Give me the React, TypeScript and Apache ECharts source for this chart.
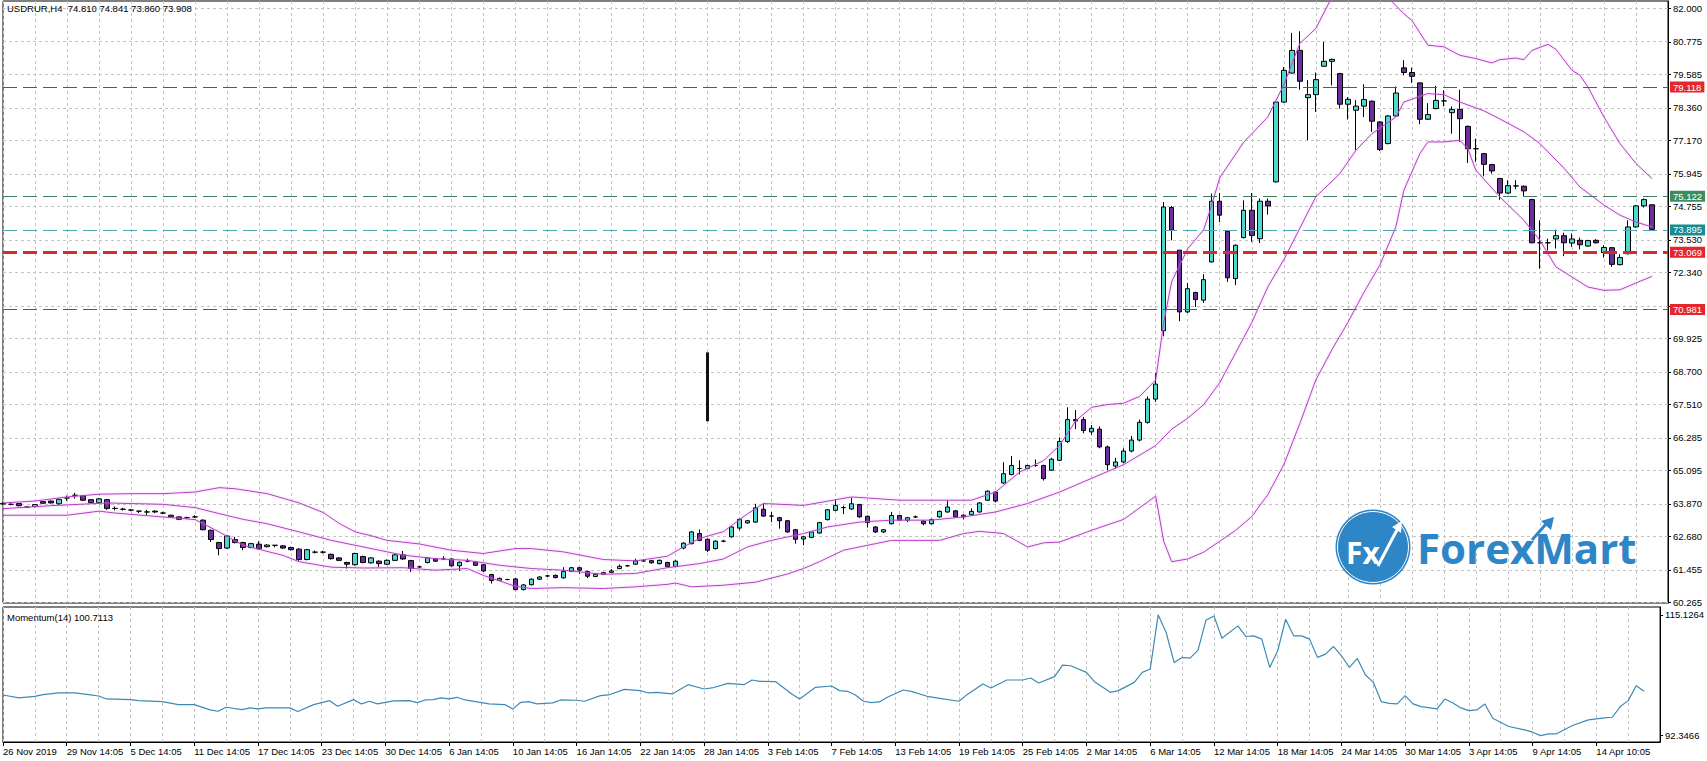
import React, { useEffect, useRef } from 'react';
import * as echarts from 'echarts';

const FONT = "'Liberation Sans', Arial, sans-serif";

// x-axis tick labels, one every 8 bars
const tickLabels = [
  '26 Nov 2019', '29 Nov 14:05', '5 Dec 14:05', '11 Dec 14:05', '17 Dec 14:05', '23 Dec 14:05',
  '30 Dec 14:05', '6 Jan 14:05', '10 Jan 14:05', '16 Jan 14:05', '22 Jan 14:05', '28 Jan 14:05',
  '3 Feb 14:05', '7 Feb 14:05', '13 Feb 14:05', '19 Feb 14:05', '25 Feb 14:05', '2 Mar 14:05',
  '6 Mar 14:05', '12 Mar 14:05', '18 Mar 14:05', '24 Mar 14:05', '30 Mar 14:05', '3 Apr 14:05',
  '9 Apr 14:05', '14 Apr 10:05',
];

const SLOT_COUNT = 209;

// price axis ticks (grid lines) and the labels that are not covered by a level badge
const priceTicks = [
  60.265, 61.455, 62.68, 63.87, 65.095, 66.285, 67.51, 68.7, 69.925, 71.115,
  72.34, 73.53, 74.755, 75.945, 77.17, 78.36, 79.585, 80.775, 82.0,
];
const priceLabels = [
  60.265, 61.455, 62.68, 63.87, 65.095, 66.285, 67.51, 68.7, 69.925,
  72.34, 73.53, 74.755, 75.945, 77.17, 78.36, 79.585, 80.775, 82.0,
];
const momentumTicks = [92.3466, 115.1264];

// horizontal levels
const levelValues = [79.118, 75.122, 73.895, 73.069, 70.981];

// [open, close, low, high]
const candles: number[][] = [
  [63.86, 63.88, 63.83, 63.93], [63.85, 63.85, 63.81, 63.89], [63.88, 63.8, 63.77, 63.9], [63.75, 63.75, 63.72, 63.78],
  [63.77, 63.84, 63.74, 63.86], [63.95, 63.89, 63.87, 63.97], [63.97, 63.9, 63.88, 63.99], [63.87, 64.03, 63.83, 64.07],
  [64.08, 64.08, 63.98, 64.17], [64.18, 64.18, 64.06, 64.27], [64.16, 64.0, 63.97, 64.19], [64.02, 63.91, 63.88, 64.04],
  [63.91, 64.05, 63.88, 64.08], [64.02, 63.7, 63.65, 64.05], [63.7, 63.7, 63.63, 63.77], [63.67, 63.67, 63.62, 63.72],
  [63.64, 63.64, 63.6, 63.68], [63.6, 63.6, 63.53, 63.61], [63.57, 63.57, 63.46, 63.65], [63.6, 63.57, 63.53, 63.63],
  [63.53, 63.53, 63.49, 63.58], [63.45, 63.39, 63.37, 63.47], [63.39, 63.3, 63.27, 63.41], [63.36, 63.36, 63.32, 63.4],
  [63.39, 63.39, 63.35, 63.45], [63.27, 62.92, 62.9, 63.3], [62.9, 62.56, 62.47, 62.93], [62.45, 62.23, 61.98, 62.48],
  [62.25, 62.69, 62.22, 62.72], [62.56, 62.45, 62.42, 62.66], [62.45, 62.27, 62.17, 62.48], [62.27, 62.41, 62.24, 62.44],
  [62.39, 62.22, 62.19, 62.5], [62.3, 62.36, 62.27, 62.39], [62.35, 62.35, 62.28, 62.36], [62.33, 62.25, 62.22, 62.36],
  [62.27, 62.19, 62.16, 62.3], [62.21, 61.83, 61.78, 62.24], [61.83, 62.19, 61.8, 62.22], [62.1, 62.1, 62.05, 62.16],
  [62.1, 62.1, 62.05, 62.15], [62.02, 61.86, 61.83, 62.05], [61.89, 61.8, 61.77, 61.92], [61.72, 61.66, 61.5, 61.75],
  [61.64, 62.05, 61.61, 62.08], [61.94, 61.72, 61.69, 61.97], [61.71, 61.89, 61.68, 61.92], [61.77, 61.68, 61.55, 61.8],
  [61.66, 61.8, 61.63, 61.83], [61.8, 62.0, 61.77, 62.05], [62.0, 61.85, 61.82, 62.14], [61.79, 61.5, 61.38, 61.82],
  [61.56, 61.56, 61.52, 61.6], [61.72, 61.89, 61.69, 61.92], [61.85, 61.77, 61.74, 61.88], [61.85, 61.85, 61.83, 61.95],
  [61.85, 61.6, 61.57, 61.88], [61.6, 61.73, 61.41, 61.76], [61.77, 61.77, 61.73, 61.86], [61.74, 61.62, 61.59, 61.77],
  [61.64, 61.41, 61.38, 61.67], [61.28, 61.06, 60.95, 61.31], [61.07, 61.14, 61.04, 61.17], [61.1, 61.1, 61.07, 61.12],
  [61.12, 60.73, 60.7, 61.15], [60.73, 60.9, 60.7, 60.93], [60.91, 61.11, 60.88, 61.14], [61.11, 61.19, 61.08, 61.22],
  [61.23, 61.23, 61.19, 61.27], [61.25, 61.17, 61.14, 61.28], [61.16, 61.39, 61.13, 61.55], [61.4, 61.53, 61.37, 61.56],
  [61.53, 61.44, 61.3, 61.56], [61.39, 61.22, 61.15, 61.42], [61.21, 61.29, 61.18, 61.32], [61.29, 61.35, 61.26, 61.38],
  [61.36, 61.41, 61.33, 61.48], [61.5, 61.58, 61.47, 61.65], [61.6, 61.6, 61.57, 61.64], [61.66, 61.78, 61.63, 61.86],
  [61.78, 61.78, 61.75, 61.82], [61.79, 61.71, 61.68, 61.82], [61.68, 61.8, 61.65, 61.83], [61.72, 61.57, 61.54, 61.75],
  [61.58, 61.77, 61.55, 61.8], [62.25, 62.43, 62.2, 62.46], [62.41, 62.84, 62.38, 62.87], [62.78, 62.53, 62.5, 62.93],
  [62.57, 62.17, 62.1, 62.6], [62.23, 62.5, 62.2, 62.53], [62.5, 62.5, 62.46, 62.55], [62.66, 63.02, 62.63, 63.05],
  [62.98, 63.3, 62.9, 63.33], [63.17, 63.25, 63.14, 63.28], [63.2, 63.72, 63.17, 63.87], [63.67, 63.42, 63.39, 63.89],
  [63.42, 63.42, 63.2, 63.57], [63.36, 63.25, 62.96, 63.39], [63.25, 62.84, 62.81, 63.28], [62.92, 62.57, 62.41, 62.95],
  [62.58, 62.66, 62.35, 62.69], [62.64, 62.84, 62.61, 62.87], [62.8, 63.18, 62.77, 63.21], [63.29, 63.65, 63.26, 63.68],
  [63.63, 63.81, 63.6, 64.02], [63.73, 63.73, 63.49, 63.8], [63.68, 63.87, 63.65, 64.09], [63.84, 63.39, 63.36, 63.87],
  [63.41, 63.18, 63.0, 63.44], [63.02, 62.84, 62.8, 63.05], [62.84, 62.92, 62.8, 62.95], [63.14, 63.44, 63.11, 63.57],
  [63.44, 63.27, 63.24, 63.47], [63.27, 63.36, 63.2, 63.39], [63.39, 63.39, 63.35, 63.44], [63.24, 63.14, 63.08, 63.27],
  [63.14, 63.29, 63.11, 63.33], [63.39, 63.59, 63.36, 63.62], [63.57, 63.75, 63.54, 64.0], [63.61, 63.39, 63.36, 63.64],
  [63.45, 63.39, 63.3, 63.48], [63.47, 63.59, 63.44, 63.7], [63.57, 63.9, 63.54, 63.93], [64.0, 64.33, 63.97, 64.36],
  [64.3, 63.97, 63.92, 64.33], [64.63, 64.97, 64.6, 65.39], [64.94, 65.27, 64.91, 65.62], [65.16, 65.16, 64.94, 65.46],
  [65.16, 65.27, 65.13, 65.3], [65.27, 65.27, 65.22, 65.49], [65.27, 64.79, 64.72, 65.3], [65.1, 65.5, 65.07, 65.55],
  [65.46, 66.15, 65.43, 66.3], [66.15, 66.95, 66.1, 67.4], [66.95, 66.9, 66.6, 67.3], [66.95, 66.55, 66.45, 67.05],
  [66.5, 66.63, 66.4, 66.75], [66.6, 65.95, 65.9, 66.7], [65.95, 65.3, 65.1, 66.0], [65.25, 65.4, 65.15, 65.55],
  [65.4, 65.8, 65.35, 65.9], [65.8, 66.2, 65.75, 66.35], [66.2, 66.85, 66.15, 66.95], [66.85, 67.7, 66.8, 67.8],
  [67.7, 68.25, 67.6, 68.65], [70.2, 74.73, 70.0, 74.91], [74.71, 73.88, 73.51, 74.76], [73.15, 70.89, 70.55, 73.15],
  [70.89, 71.74, 70.85, 71.95], [71.6, 71.34, 71.07, 71.63], [71.32, 72.07, 71.22, 72.27], [72.72, 74.94, 72.7, 75.22],
  [74.94, 74.43, 74.18, 75.24], [73.84, 72.14, 71.99, 73.87], [72.11, 73.33, 71.87, 73.36], [73.61, 74.61, 73.58, 74.97],
  [74.61, 73.69, 73.45, 75.24], [73.57, 74.94, 73.41, 75.04], [74.94, 74.77, 74.45, 75.04], [75.65, 78.57, 75.62, 78.6],
  [78.57, 79.73, 78.54, 79.85], [79.63, 80.46, 79.6, 81.1], [80.46, 79.33, 79.02, 81.16], [78.73, 78.84, 77.17, 79.37],
  [78.84, 79.39, 78.21, 79.65], [79.88, 80.06, 79.85, 80.77], [80.06, 80.13, 79.18, 80.16], [79.61, 78.49, 78.33, 79.64],
  [78.49, 78.67, 77.93, 78.75], [78.27, 78.42, 76.8, 78.64], [78.42, 78.66, 78.02, 79.22], [78.6, 77.87, 77.48, 78.63],
  [77.84, 76.83, 76.78, 77.87], [77.05, 78.06, 77.02, 78.09], [78.06, 78.9, 78.03, 79.14], [79.82, 79.65, 79.55, 80.1],
  [79.65, 79.51, 79.27, 79.83], [79.27, 77.94, 77.76, 79.3], [77.94, 78.11, 77.91, 78.53], [78.33, 78.63, 78.3, 79.16],
  [78.61, 78.61, 78.41, 79.0], [78.18, 78.3, 77.41, 78.41], [78.3, 77.96, 77.11, 79.02], [77.68, 76.86, 76.34, 77.71],
  [76.86, 76.86, 76.38, 77.23], [76.68, 76.29, 75.85, 76.71], [76.28, 76.05, 75.95, 76.31], [75.77, 75.24, 74.99, 75.8],
  [75.24, 75.51, 75.21, 75.71], [75.5, 75.5, 75.38, 75.71], [75.49, 75.32, 75.1, 75.52], [75.0, 73.42, 73.4, 75.03],
  [73.42, 73.42, 72.47, 74.24], [73.42, 73.42, 73.14, 73.57], [73.56, 73.68, 73.21, 73.9], [73.68, 73.42, 72.93, 73.79],
  [73.41, 73.56, 73.27, 73.76], [73.51, 73.35, 73.18, 73.61], [73.3, 73.5, 73.27, 73.53], [73.51, 73.42, 73.39, 73.55],
  [73.06, 73.25, 72.88, 73.33], [73.24, 72.63, 72.54, 73.27], [72.62, 72.88, 72.59, 73.0], [73.02, 74.0, 72.99, 74.24],
  [74.0, 74.77, 73.97, 74.8], [74.77, 75.0, 74.71, 75.04], [74.81, 73.91, 73.86, 74.84],
];

// Bollinger bands: [bar index, price]
const bandUpper = [
  [0, 63.9], [4, 63.97], [8, 64.12], [12, 64.22], [16, 64.24], [20, 64.24], [24, 64.3], [27, 64.46], [29, 64.42],
  [33, 64.24], [37, 63.9], [40, 63.55], [42, 63.15], [44, 62.84], [46, 62.7], [48, 62.53], [52, 62.4], [56, 62.17],
  [60, 62.05], [64, 62.23], [66, 62.23], [70, 62.11], [75, 61.83], [79, 61.78], [83, 61.95], [85, 62.29], [87, 62.6],
  [90, 62.85], [93, 63.5], [95, 63.88], [100, 63.81], [106, 64.12], [112, 64.0], [121, 64.0], [124, 64.3], [127, 65.03],
  [130, 65.45], [132, 66.01], [134, 66.9], [136, 67.4], [138, 67.5], [140, 67.55], [142, 67.8], [144, 68.4], [145, 70.5],
  [146, 72.0], [148, 73.2], [150, 73.9], [151, 74.8], [152, 75.8], [155, 77.1], [158, 78.02], [160, 79.2], [162, 80.71],
  [164, 81.26], [166, 82.4], [168, 83.2], [170, 83.3], [172, 82.7], [175, 81.8], [176, 81.56], [178, 80.65], [180, 80.59],
  [182, 80.28], [184, 80.16], [186, 80.0], [187, 80.12], [189, 80.18], [190, 80.12], [191, 80.46], [193, 80.68],
  [194, 80.5], [196, 79.73], [197, 79.55], [198, 79.12], [200, 78.02], [202, 77.05], [204, 76.32], [206, 75.77],
];
const bandMiddle = [
  [0, 63.69], [6, 63.8], [13, 63.9], [20, 63.85], [24, 63.73], [27, 63.51], [30, 63.3], [33, 63.14], [37, 62.84],
  [41, 62.53], [45, 62.29], [50, 61.99], [54, 61.86], [58, 61.8], [62, 61.62], [66, 61.5], [70, 61.44], [75, 61.29],
  [79, 61.32], [83, 61.53], [87, 61.68], [90, 61.85], [93, 62.29], [96, 62.53], [100, 62.78], [103, 63.02], [107, 63.2],
  [111, 63.27], [116, 63.27], [120, 63.39], [124, 63.57], [128, 63.88], [132, 64.3], [136, 64.8], [140, 65.3],
  [144, 66.0], [146, 66.6], [148, 67.0], [150, 67.5], [152, 68.3], [154, 69.4], [156, 70.5], [158, 71.8], [160, 72.8],
  [164, 75.1], [167, 75.95], [169, 76.8], [171, 77.41], [174, 78.02], [175, 78.57], [178, 78.88], [180, 78.84],
  [182, 78.57], [185, 78.25], [187, 77.95], [190, 77.48], [192, 77.05], [195, 76.15], [197, 75.46], [200, 74.8],
  [202, 74.43], [204, 74.18], [206, 74.0],
];
const bandLower = [
  [0, 63.45], [8, 63.45], [12, 63.6], [14, 63.53], [24, 63.29], [27, 62.84], [30, 62.35], [35, 61.98], [37, 61.75],
  [41, 61.55], [45, 61.52], [50, 61.53], [54, 61.44], [58, 61.5], [60, 61.25], [64, 60.85], [66, 60.77], [70, 60.8],
  [75, 60.77], [79, 60.83], [83, 60.92], [84, 60.97], [86, 60.83], [90, 60.89], [94, 61.0], [98, 61.3], [100, 61.5],
  [102, 61.75], [105, 62.17], [109, 62.41], [111, 62.53], [117, 62.53], [120, 62.78], [122, 62.86], [125, 62.78],
  [128, 62.29], [130, 62.44], [132, 62.47], [136, 62.9], [140, 63.3], [144, 64.15], [145, 62.5], [146, 61.75],
  [148, 61.85], [150, 62.1], [152, 62.5], [154, 62.9], [156, 63.4], [158, 64.2], [160, 65.3], [162, 66.8], [164, 68.4],
  [166, 69.5], [168, 70.5], [170, 71.6], [172, 72.6], [174, 74.0], [175, 75.34], [177, 76.68], [178, 77.11],
  [180, 77.11], [182, 77.17], [183, 76.86], [184, 76.07], [187, 75.1], [190, 74.24], [192, 73.51], [194, 72.54],
  [196, 72.17], [198, 71.8], [200, 71.68], [202, 71.7], [204, 71.95], [206, 72.19],
];

// Momentum(14): [bar index, value]
const momentum = [
  [0, 100.0], [2, 99.45], [4, 99.75], [5, 100.07], [7, 100.39], [9, 100.39], [11, 100.01], [12, 99.82], [13, 99.26],
  [16, 99.13], [17, 98.95], [20, 98.76], [22, 98.19], [24, 98.19], [26, 97.19], [27, 96.94], [28, 97.69], [30, 97.25],
  [31, 97.57], [32, 97.38], [33, 97.57], [36, 97.57], [37, 96.88], [39, 98.19], [41, 98.94], [42, 97.88], [44, 99.13],
  [45, 98.32], [46, 98.82], [47, 98.32], [49, 98.88], [51, 98.94], [52, 98.57], [53, 99.07], [54, 99.13], [55, 99.45],
  [56, 99.26], [57, 99.57], [58, 99.07], [61, 98.32], [63, 98.19], [64, 97.38], [65, 98.63], [66, 98.76], [67, 98.32],
  [69, 98.51], [70, 99.07], [72, 99.01], [73, 98.82], [75, 99.89], [76, 100.01], [78, 101.07], [80, 100.83],
  [81, 100.39], [82, 100.51], [84, 100.2], [86, 101.95], [88, 101.14], [89, 101.33], [91, 102.2], [93, 101.95],
  [94, 102.83], [95, 102.58], [97, 102.52], [99, 100.2], [100, 99.26], [102, 101.45], [104, 101.7], [105, 100.83],
  [106, 100.7], [107, 100.01], [108, 98.82], [109, 98.57], [110, 98.7], [111, 99.57], [113, 100.95], [114, 100.7],
  [116, 99.76], [118, 99.26], [120, 98.82], [121, 100.07], [123, 102.08], [124, 101.33], [126, 102.83], [128, 102.83],
  [129, 103.21], [130, 102.27], [132, 103.46], [133, 105.65], [134, 105.52], [136, 104.27], [137, 102.52],
  [139, 100.51], [140, 100.83], [142, 102.39], [143, 104.27], [144, 104.9], [145, 115.13], [146, 111.79],
  [147, 106.15], [148, 107.09], [149, 106.96], [150, 108.47], [151, 114.11], [152, 114.92], [153, 110.72],
  [155, 113.04], [156, 111.04], [157, 111.16], [158, 110.54], [159, 105.21], [160, 108.34], [161, 114.29],
  [162, 111.16], [163, 111.16], [164, 110.54], [165, 107.09], [166, 107.72], [167, 109.16], [168, 107.4],
  [169, 105.21], [170, 106.9], [171, 103.83], [172, 102.39], [173, 98.76], [174, 98.44], [175, 98.32], [176, 99.89],
  [177, 98.32], [178, 97.82], [180, 97.38], [181, 99.26], [182, 98.51], [183, 97.57], [184, 97.07], [185, 97.19],
  [186, 98.32], [187, 95.62], [189, 94.06], [191, 93.43], [192, 92.99], [193, 92.35], [194, 92.68], [195, 92.68],
  [197, 94.25], [199, 95.31], [200, 95.5], [201, 95.69], [202, 95.81], [203, 97.82], [204, 98.94], [205, 101.76],
  [206, 100.71],
];

// black vertical stroke drawn on the chart: [bar index, top price, bottom price]
const strokeMark = [88, 69.41, 66.89];

const titleText = 'USDRUR,H4  74.810 74.841 73.860 73.908';
const momentumTitle = 'Momentum(14) 100.7113';

const levelStyles = [
  { line: '#b83030', width: 1, badge: '#e5262b' },
  { line: '#3f7f60', width: 1, badge: '#3c8f5c' },
  { line: '#4fa6ae', width: 1, badge: '#1b8b91' },
  { line: '#d42b2b', width: 3, badge: '#e5262b' },
  { line: '#b83030', width: 1, badge: '#e5262b' },
];

const GRID_COLOR = '#c4c4c4';

export default function App() {
  const ref = useRef<HTMLDivElement>(null);

  useEffect(() => {
    if (!ref.current) return;
    const chart = echarts.init(ref.current, null, { renderer: 'svg' });
    const categories = Array.from({ length: SLOT_COUNT }, (_, i) => String(i));
    const labelStyle = { fontSize: 9.5, color: '#000', fontFamily: FONT };
    const vGrid = {
      show: true,
      interval: (i: number) => i % 4 === 0,
      lineStyle: { color: GRID_COLOR, type: [3, 3] as any, width: 1 },
    };

    const option: any = {
      animation: false,
      backgroundColor: '#fff',
      grid: [
        { left: 3, top: 1, width: 1665, height: 602, show: true, borderColor: '#000', borderWidth: 1, backgroundColor: 'transparent' },
        { left: 3, top: 607, width: 1665, height: 135, show: true, borderColor: '#000', borderWidth: 1, backgroundColor: 'transparent' },
      ],
      xAxis: [
        {
          type: 'category', gridIndex: 0, data: categories, boundaryGap: false,
          axisLine: { show: false }, axisTick: { show: false }, axisLabel: { show: false },
          splitLine: vGrid,
        },
        {
          type: 'category', gridIndex: 1, data: categories, boundaryGap: false,
          axisLine: { show: true, lineStyle: { color: '#000' } },
          axisTick: { show: true, interval: (i: number) => i % 8 === 0 && i / 8 < tickLabels.length, length: 4, lineStyle: { color: '#000' } },
          axisLabel: {
            ...labelStyle,
            interval: (i: number) => i % 8 === 0 && i / 8 < tickLabels.length,
            formatter: (_v: string, i: number) => tickLabels[i / 8] ?? '',
            align: 'left', margin: 4,
          },
          splitLine: vGrid,
        },
      ],
      yAxis: [
        {
          type: 'value', gridIndex: 0, position: 'right', min: 60.239, max: 82.267,
          axisLine: { show: true, lineStyle: { color: '#000' } },
          axisTick: { show: true, length: 3, customValues: priceTicks, lineStyle: { color: '#000' } },
          axisLabel: { ...labelStyle, customValues: priceLabels, margin: 5, formatter: (v: number) => v.toFixed(3) },
          splitLine: { show: false },
        },
        {
          type: 'value', gridIndex: 1, position: 'right', min: 91.14, max: 116.6,
          axisLine: { show: true, lineStyle: { color: '#000' } },
          axisTick: { show: true, length: 3, customValues: momentumTicks, lineStyle: { color: '#000' } },
          axisLabel: { ...labelStyle, customValues: momentumTicks, margin: 5, formatter: (v: number) => v.toFixed(4) },
          splitLine: { show: false },
        },
      ],
      series: [
        {
          type: 'line', xAxisIndex: 0, yAxisIndex: 0, data: [], silent: true, z: 1,
          markLine: {
            silent: true, z: 1, symbol: ['none', 'none'], animation: false,
            label: { show: false },
            lineStyle: { color: GRID_COLOR, type: [3, 3], width: 1 },
            data: priceTicks.map((v) => ({ yAxis: v })),
          },
        },
        {
          type: 'candlestick', xAxisIndex: 0, yAxisIndex: 0, data: candles, barWidth: 5, z: 2,
          itemStyle: { color: '#4dd8cf', color0: '#6a2d9b', borderColor: '#000', borderColor0: '#000', borderWidth: 1 },
          markLine: {
            silent: true, symbol: ['none', 'none'], animation: false,
            data: [
              ...levelValues.map((v, k) => ({
                yAxis: v,
                lineStyle: { color: levelStyles[k].line, width: levelStyles[k].width, type: [14, 6] },
                label: {
                  show: true, position: 'end', distance: 2, formatter: v.toFixed(3),
                  color: '#fff', backgroundColor: levelStyles[k].badge, padding: [1, 3, 0, 3],
                  fontSize: 9.5, fontFamily: FONT,
                },
              })),
              [
                { coord: [strokeMark[0], strokeMark[1]], lineStyle: { color: '#111', width: 3, type: 'solid' }, label: { show: false } },
                { coord: [strokeMark[0], strokeMark[2]] },
              ],
            ],
          },
        },
        ...[bandUpper, bandMiddle, bandLower].map((d) => ({
          type: 'line', xAxisIndex: 0, yAxisIndex: 0, data: d, symbol: 'none', silent: true, z: 3,
          lineStyle: { color: '#b43ec6', width: 1, shadowColor: 'rgba(225,140,235,0.7)', shadowBlur: 2 },
        })),
        {
          type: 'line', xAxisIndex: 1, yAxisIndex: 1, data: momentum, symbol: 'none', silent: true, z: 3,
          lineStyle: { color: '#3d8bb5', width: 1.2 },
        },
      ],
      graphic: [
        { type: 'text', left: 7, top: 3, z: 20, style: { text: titleText, fontSize: 9.5, fontFamily: FONT, fill: '#000' } },
        { type: 'text', left: 7, top: 612, z: 20, style: { text: momentumTitle, fontSize: 9.5, fontFamily: FONT, fill: '#000' } },
        {
          type: 'group', z: 10,
          children: [
            { type: 'circle', shape: { cx: 1373, cy: 547, r: 37.5 }, style: { fill: '#2e86c6' }, z: 10 },
            { type: 'circle', shape: { cx: 1373, cy: 547, r: 35.5 }, style: { fill: 'none', stroke: '#fff', lineWidth: 1 }, z: 11 },
            { type: 'text', x: 1346, y: 552, z: 12, style: { text: 'Fx', fill: '#fff', fontSize: 30, fontWeight: 'bold', fontFamily: "'Open Sans', sans-serif", verticalAlign: 'middle' } },
            { type: 'polyline', z: 12, shape: { points: [[1378, 566], [1390, 543], [1397, 530]] }, style: { stroke: '#fff', lineWidth: 3, fill: 'none' } },
            { type: 'polygon', z: 12, shape: { points: [[1392, 527], [1402, 521], [1401, 533]] }, style: { fill: '#fff' } },
            { type: 'text', x: 1417, y: 547, z: 12, style: { text: 'ForexMart', fill: '#2e86c6', fontSize: 42, fontWeight: 'bold', fontFamily: "'Open Sans', sans-serif", verticalAlign: 'middle' } },
            { type: 'polyline', z: 13, shape: { points: [[1532, 540], [1546, 524]] }, style: { stroke: '#2e86c6', lineWidth: 3, fill: 'none' } },
            { type: 'polygon', z: 13, shape: { points: [[1541, 521], [1554, 517], [1551, 530]] }, style: { fill: '#2e86c6' } },
          ],
        },
      ],
    };

    chart.setOption(option);
    return () => chart.dispose();
  }, []);

  return (
    <div style={{ position: 'absolute', left: 0, top: 0, width: 1707, height: 761, background: '#fff' }}>
      <div ref={ref} style={{ width: 1707, height: 761 }} />
    </div>
  );
}
